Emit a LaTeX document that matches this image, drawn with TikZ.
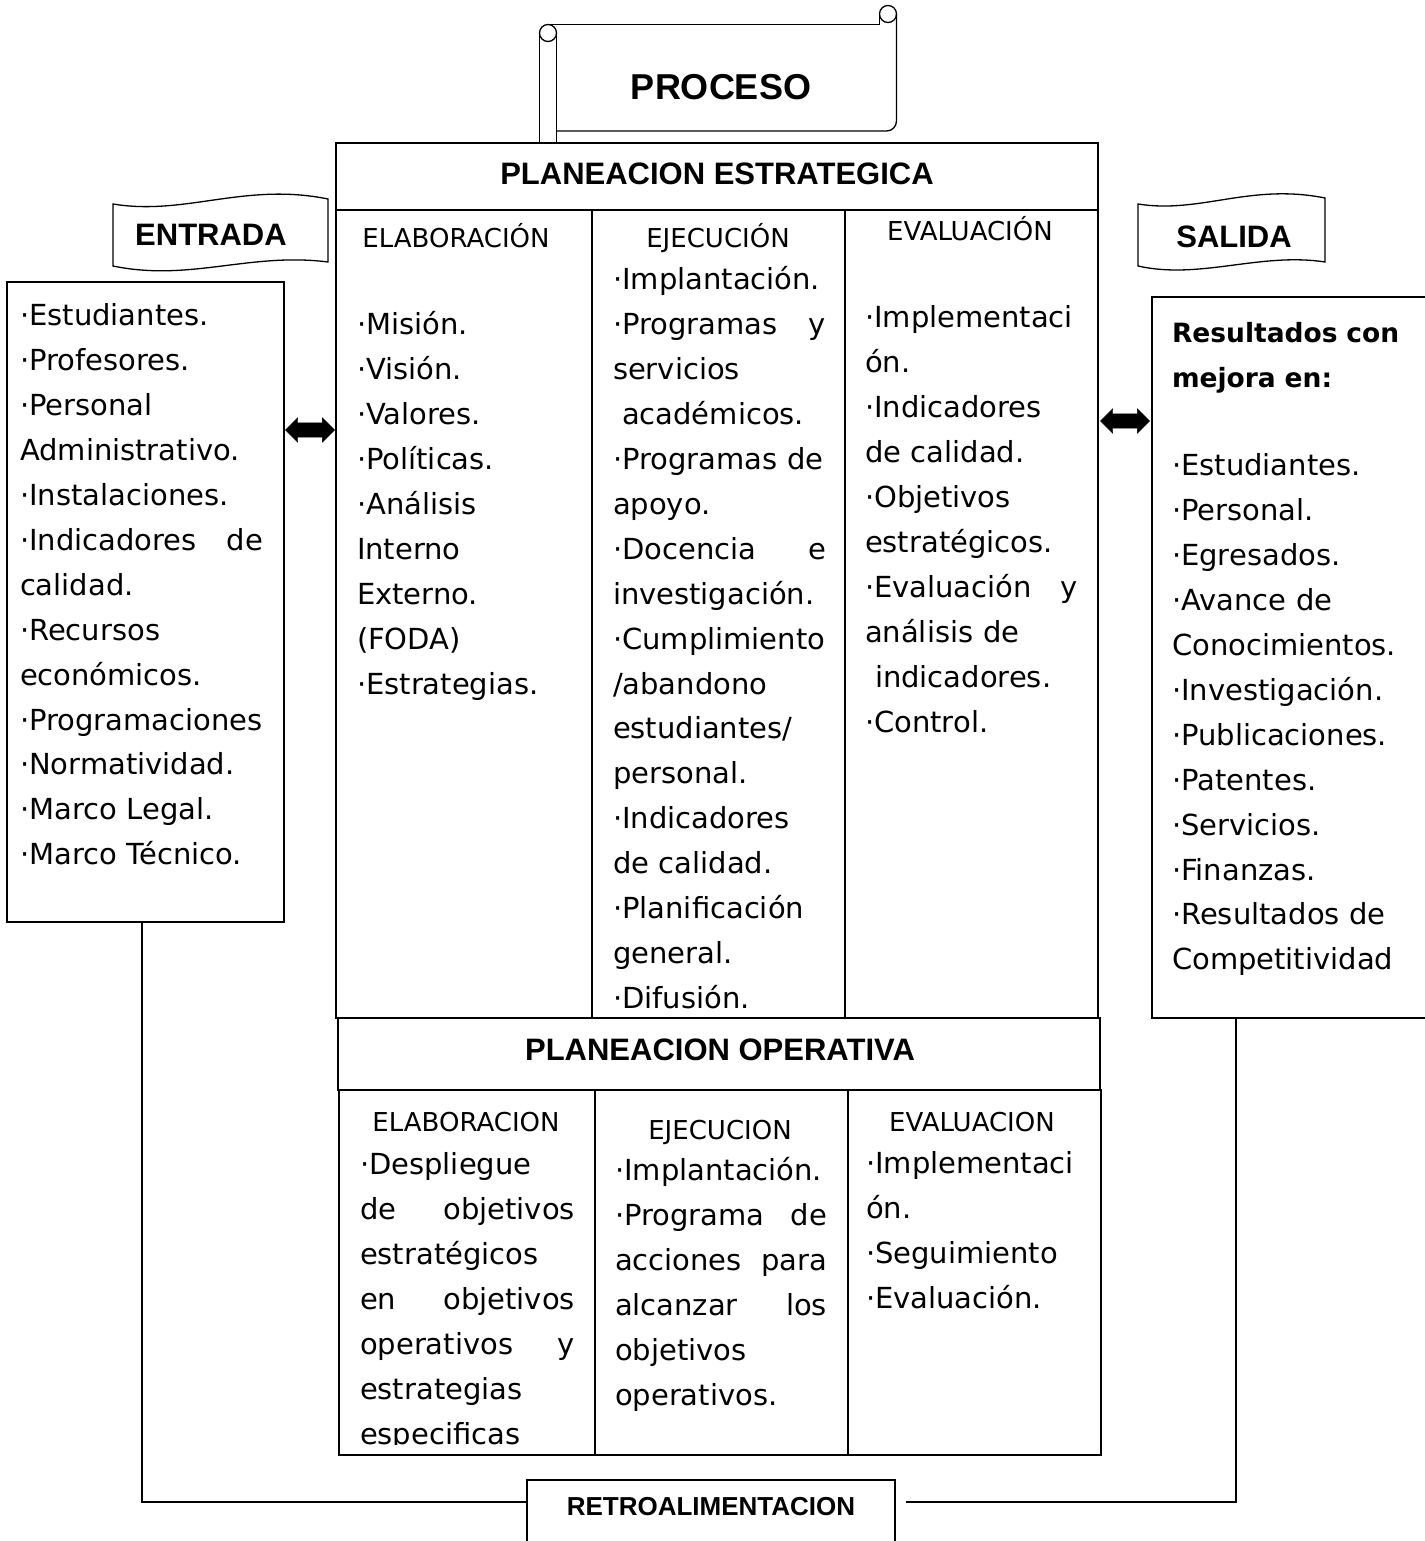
\documentclass[tikz,border=0pt]{standalone}
\usepackage{fontspec}
\setmainfont{DejaVu Sans}
\newfontfamily\hdfont{Liberation Sans}
\usetikzlibrary{shapes.arrows,calc}
\newcommand\jl[3]{\makebox[#1pt][l]{#2\hfill #3}}
\hyphenpenalty=10000
\exhyphenpenalty=10000
\begin{document}
\begin{tikzpicture}[x=1pt,y=-1pt,
  every node/.style={inner sep=0pt,outer sep=0pt},
  ln/.style={line width=1.3pt},
  frame/.style={draw,line width=1.3pt,anchor=north west},
  hd/.style={anchor=base,font=\hdfont\bfseries\fontsize{31}{36}\selectfont},
  colhd/.style={anchor=base,font=\fontsize{26}{30}\selectfont},
  body/.style={anchor=north west,align=left,text width=#1,font=\fontsize{29}{44.9}\selectfont},
  bodyb/.style={anchor=north west,align=left,text width=#1,font=\bfseries\fontsize{26.5}{44.9}\selectfont},
  fatarrow/.style={double arrow,draw=black,fill=black,inner xsep=0pt,inner ysep=7pt,minimum height=49pt,double arrow head extend=5pt},
  conn/.style={line width=1.3pt}]
\useasboundingbox (0,0) rectangle (1424,1541);
\fill[white] (0,0) rectangle (1424,1541);

% PROCESO scroll
\draw[ln] (548,33) circle (8.5);
\draw[ln] (539.5,143) -- (539.5,33);
\draw[ln] (556.5,33) -- (556.5,143);
\draw[ln] (548,24.5) -- (879.5,24.5);
\draw[ln] (888,14) circle (8.5);
\draw[ln] (879.5,14) -- (879.5,24.5);
\draw[ln,rounded corners=10pt] (896.5,14) -- (896.5,131) -- (556.5,131);
\node[anchor=base,font=\hdfont\bfseries\fontsize{36}{40}\selectfont] (proc) at (721,100) {PROCESO};

% ENTRADA / SALIDA banners
\draw[ln] (113,204) .. controls (185,216) and (245,182) .. (328,199) -- (328,262) .. controls (250,252) and (190,282) .. (113,266) -- cycle;
\node[hd] (entrada) at (211,245) {ENTRADA};
\draw[ln] (1138,204) .. controls (1200,214) and (1250,183) .. (1325,198) -- (1325,262) .. controls (1260,252) and (1200,280) .. (1138,266) -- cycle;
\node[hd] (salida) at (1234,247) {SALIDA};

% main grid
\node[frame,minimum width=762pt,minimum height=67pt] (pe) at (336,143) {};
\node[frame,minimum width=256pt,minimum height=808pt] (ec1) at (336,210) {};
\node[frame,minimum width=253pt,minimum height=808pt] (ec2) at (592,210) {};
\node[frame,minimum width=253pt,minimum height=808pt] (ec3) at (845,210) {};
\node[frame,minimum width=762pt,minimum height=72pt] (po) at (338,1018) {};
\node[frame,minimum width=256pt,minimum height=365pt] (oc1) at (339,1090) {};
\node[frame,minimum width=253pt,minimum height=365pt] (oc2) at (595,1090) {};
\node[frame,minimum width=253pt,minimum height=365pt] (oc3) at (848,1090) {};

\node[hd] (pet) at (717,185) {PLANEACION ESTRATEGICA};
\node[hd] (pot) at (720,1060) {PLANEACION OPERATIVA};

\node[colhd] (h1) at (456,247.5) {ELABORACIÓN};
\node[colhd] (h2) at (718,247.5) {EJECUCIÓN};
\node[colhd] (h3) at (970,240.5) {EVALUACIÓN};
\node[colhd] (h4) at (466,1131.5) {ELABORACION};
\node[colhd] (h5) at (720,1139.5) {EJECUCION};
\node[colhd] (h6) at (972,1131.5) {EVALUACION};

% strategic columns text
\node[body=230] (t1) at (357,303.5) {\strut ·Misión.\\ ·Visión.\\ ·Valores.\\ ·Políticas.\\ ·Análisis\\ Interno\\ Externo.\\ (FODA)\\ ·Estrategias.};
\begin{scope}
\clip (592,210) rectangle (845,1011);
\node[body=240] (t2) at (613,258.5) {\strut ·Implantación.\\ \jl{213}{·Programas}{y}\\ servicios\\ \hspace*{9pt}académicos.\\ ·Programas de\\ apoyo.\\ \jl{213}{·Docencia}{e}\\ investigación.\\ ·Cumplimiento\\ /abandono\\ estudiantes/\\ personal.\\ ·Indicadores\\ de calidad.\\ ·Planificación\\ general.\\ ·Difusión.};
\end{scope}
\node[body=240] (t3) at (865,296.5) {\strut ·Implementaci\\ ón.\\ ·Indicadores\\ de calidad.\\ ·Objetivos\\ estratégicos.\\ \jl{213}{·Evaluación}{y}\\ análisis de\\ \hspace*{10pt}indicadores.\\ ·Control.};

% operative columns text
\begin{scope}
\clip (339,1090) rectangle (595,1444);
\node[body=240] (t4) at (360,1143.5) {\strut ·Despliegue\\ \jl{215}{de}{objetivos}\\ estratégicos\\ \jl{215}{en}{objetivos}\\ \jl{215}{operativos}{y}\\ estrategias\\ especificas};
\end{scope}
\node[body=240] (t5) at (615,1149.5) {\strut ·Implantación.\\ \jl{212}{·Programa}{de}\\ \jl{212}{acciones}{para}\\ \jl{212}{alcanzar}{los}\\ objetivos\\ operativos.};
\node[body=240] (t6) at (866,1142.5) {\strut ·Implementaci\\ ón.\\ ·Seguimiento\\ ·Evaluación.};

% left box
\node[frame,minimum width=277pt,minimum height=640pt] (lbox) at (7,282) {};
\node[body=260] (lt) at (20,294.5) {\strut ·Estudiantes.\\ ·Profesores.\\ ·Personal\\ Administrativo.\\ ·Instalaciones.\\ \jl{243}{·Indicadores}{de}\\ calidad.\\ ·Recursos\\ económicos.\\ ·Programaciones\\ ·Normatividad.\\ ·Marco Legal.\\ ·Marco Técnico.};

% right box
\node[frame,minimum width=285pt,minimum height=721pt] (rbox) at (1152,297) {};
\node[bodyb=250] (rtb) at (1172,311.5) {\strut Resultados con\\ mejora en:};
\node[body=250] (rt) at (1172,444.5) {\strut ·Estudiantes.\\ ·Personal.\\ ·Egresados.\\ ·Avance de\\ Conocimientos.\\ ·Investigación.\\ ·Publicaciones.\\ ·Patentes.\\ ·Servicios.\\ ·Finanzas.\\ ·Resultados de\\ Competitividad};

% fat arrows
\node[fatarrow] (a1) at (310,430) {};
\node[fatarrow] (a2) at (1125,421) {};

% feedback
\node[frame,minimum width=368pt,minimum height=75pt] (retro) at (527,1480) {};
\node[anchor=base,font=\hdfont\bfseries\fontsize{26}{30}\selectfont] (retrot) at (711,1515) {RETROALIMENTACION};
\coordinate (lfoot) at ($(lbox.south west)+(135,0)$);
\coordinate (rfoot) at ($(rbox.south west)+(84,0)$);
\coordinate (retroL) at ($(retro.north west)+(0,22)$);
\coordinate (retroR) at ($(retro.north east)+(11,22)$);
\draw[conn] (lfoot) |- (retroL);
\draw[conn] (rfoot) |- (retroR);
\end{tikzpicture}
\end{document}
